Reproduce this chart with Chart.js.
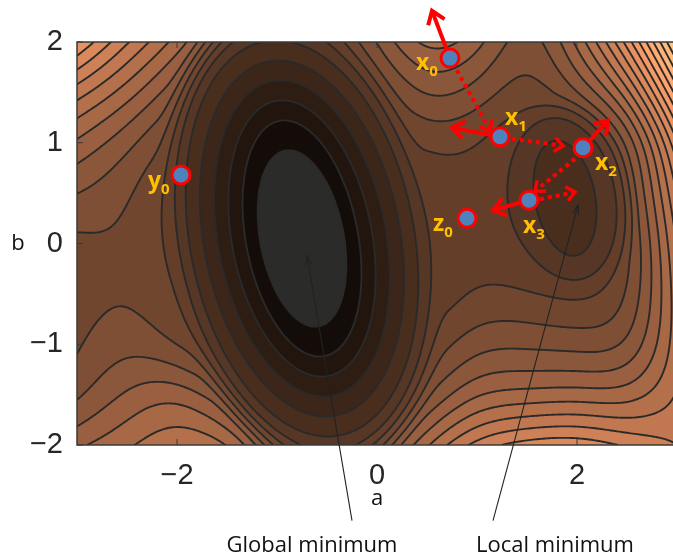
<!DOCTYPE html>
<html>
<head>
<meta charset="utf-8">
<script src="https://cdn.jsdelivr.net/npm/chart.js@4.4.1/dist/chart.umd.min.js"></script>
<style>
  html, body { margin: 0; padding: 0; background: #fff; }
  #chart { display: block; }
</style>
</head>
<body>
<canvas id="chart" width="673" height="558"></canvas>
<script>
// Terrain heights (rows = b from 2 down to -2, cols = a from -3 to 3)
const aGrid = [-3, -2.5, -2, -1.5, -1, -0.5, 0, 0.5, 1, 1.5, 2, 2.5, 3];
const bGrid = [2, 1.5, 1, 0.5, 0, -0.5, -1, -1.5, -2];
const heights = [
    [18.0, 15.0, 12.7, 9.5, 6.0, 7.4, 10.0, 12.9, 11.6, 8.6, 12.0, 17.0, 24.5],
    [14.3, 12.5, 10.2, 7.6, 6.5, 6.5, 8.2, 10.6, 9.6, 8.2, 10.0, 13.0, 20.5],
    [11.7, 10.2, 8.3, 7.0, 7.0, 7.0, 7.0, 8.3, 8.0, 6.7, 6.1, 9.0, 16.5],
    [9.95, 9.15, 7.5, 7.0, 7.0, 7.0, 7.0, 7.0, 7.7, 6.2, 5.3, 8.7, 15.0],
    [8.6, 9.0, 7.5, 7.0, 7.0, 7.0, 7.0, 6.8, 7.6, 6.7, 5.8, 8.0, 14.0],
    [8.5, 9.0, 8.0, 7.0, 7.0, 7.0, 7.0, 7.0, 8.2, 8.1, 7.6, 8.3, 13.5],
    [8.8, 9.9, 8.6, 7.0, 7.0, 7.0, 7.0, 8.0, 9.8, 9.7, 9.5, 9.3, 13.5],
    [9.6, 11.2, 12.3, 10.0, 7.5, 7.0, 7.0, 9.7, 12.0, 12.0, 12.3, 12.0, 14.0],
    [11.8, 12.8, 14.0, 13.5, 9.6, 6.6, 9.5, 13.0, 15.6, 16.5, 16.8, 15.8, 15.0]
];
const contourLevels = [1, 2, 3, 4, 5, 6, 7, 8, 9, 10, 11, 12, 13, 14, 15, 16, 17, 18, 19, 20, 21, 22, 23, 24, 25];

// The two basins (global, local): nested tilted ellipses
const basinCenterA = [-0.75, 1.88];
const basinCenterB = [0.05, 0.45];
const basinTilt = [11, 11];
const basinFloor = [0.2, 5.2];
const basinLevel = [1, 6];
const basinAxisA = [0.89, 0.58];
const basinAxisB = [0.42, 0.30];
const basinGrowA = [0.2, 0.27];
const basinGrowB = [0.14, 0.25];
const basinExtraA = [0.1, 0];
const basinBlendFrom = [6.0, 6.5];
const basinBlendTo = [8.5, 7.8];

// Tick labels
const xTicks = [-2, 0, 2];
const yTicks = [-2, -1, 0, 1, 2];

// Search points
const pointLetters = ['x', 'x', 'x', 'x', 'y', 'z'];
const pointSubs = ['0', '1', '2', '3', '0', '0'];
const pointA = [0.73, 1.23, 2.06, 1.52, -1.96, 0.90];
const pointB = [1.84, 1.06, 0.95, 0.43, 0.68, 0.25];

// Step directions of x0..x3 (solid arrows)
const stepTipA = [0.55, 0.75, 2.31, 1.16];
const stepTipB = [2.31, 1.15, 1.22, 0.33];

// Moves between iterates (dotted arrows)
const moveFromA = [0.80, 1.35, 1.98, 1.63];
const moveFromB = [1.72, 1.04, 0.84, 0.44];
const moveToA = [1.13, 1.86, 1.58, 1.98];
const moveToB = [1.12, 0.97, 0.52, 0.51];

// Annotations
const noteText = ['Global minimum', 'Local minimum'];
const noteTipA = [-0.70, 2.01];
const noteTipB = [-0.12, 0.38];
const noteTailA = [-0.25, 1.16];
const noteTailB = [-2.75, -2.75];
const noteTextA = [-0.65, 1.78];
const noteTextB = [-3.06, -3.06];

// ---- surface: smooth terrain from the table blended with the basins ----
function gridValue(i, j) {
    const rows = bGrid.length, cols = aGrid.length;
    if (i < 0) return 2 * gridValue(0, j) - gridValue(1, j);
    if (i >= rows) return 2 * gridValue(rows - 1, j) - gridValue(rows - 2, j);
    if (j < 0) return 2 * gridValue(i, 0) - gridValue(i, 1);
    if (j >= cols) return 2 * gridValue(i, cols - 1) - gridValue(i, cols - 2);
    return heights[i][j];
}

// uniform cubic B-spline
function spline(p0, p1, p2, p3, t) {
    const t2 = t * t, t3 = t2 * t;
    return ((1 - t) * (1 - t) * (1 - t) * p0 + (3 * t3 - 6 * t2 + 4) * p1 + (-3 * t3 + 3 * t2 + 3 * t + 1) * p2 + t3 * p3) / 6;
}

function terrainAt(a, b) {
    const fx = (a - aGrid[0]) / (aGrid[1] - aGrid[0]);
    const fy = (bGrid[0] - b) / (bGrid[0] - bGrid[1]);
    const j = Math.min(Math.max(Math.floor(fx), 0), aGrid.length - 2);
    const i = Math.min(Math.max(Math.floor(fy), 0), bGrid.length - 2);
    const tx = fx - j, ty = fy - i;
    let r = [];
    for (let k = -1; k <= 2; k++) {
        r.push(spline(gridValue(i + k, j - 1), gridValue(i + k, j), gridValue(i + k, j + 1), gridValue(i + k, j + 2), tx));
    }
    return spline(r[0], r[1], r[2], r[3], ty);
}

// Level of a point inside basin i (which nested ellipse it lies on)
function basinValue(i, a, b) {
    const th = basinTilt[i] * Math.PI / 180;
    const dx = a - basinCenterA[i], dy = b - basinCenterB[i];
    const u = -Math.sin(th) * dx + Math.cos(th) * dy;
    const v = Math.cos(th) * dx + Math.sin(th) * dy;
    const e = Math.hypot(u / basinAxisA[i], v / basinAxisB[i]);
    if (e <= 1) return basinFloor[i] + (basinLevel[i] - basinFloor[i]) * e * e;
    let lo = 0, hi = 30;
    for (let n = 0; n < 14; n++) {
        const t = (lo + hi) / 2;
        const A = basinAxisA[i] + basinGrowA[i] * t + basinExtraA[i] * Math.min(t, 1);
        const B = basinAxisB[i] + basinGrowB[i] * t;
        if ((u / A) * (u / A) + (v / B) * (v / B) > 1) lo = t; else hi = t;
    }
    return basinLevel[i] + (lo + hi) / 2;
}

function heightAt(a, b) {
    let f = terrainAt(a, b);
    for (let i = 0; i < basinCenterA.length; i++) {
        const k = basinValue(i, a, b);
        const s = Math.min(Math.max((basinBlendTo[i] - k) / (basinBlendTo[i] - basinBlendFrom[i]), 0), 1);
        const w = s * s * (3 - 2 * s);
        f = w * k + (1 - w) * f;
    }
    return f;
}

// copper like colour for each band
function bandColor(k) {
    if (k < 1) return [43, 43, 41];
    const t = Math.min((k + 0.5) / 24, 1);
    return [Math.min(255, 1.25 * t * 255), 0.78 * t * 255, 0.52 * t * 255];
}

function arrowHead(ctx, x1, y1, x2, y2, len, spread) {
    const ang = Math.atan2(y2 - y1, x2 - x1);
    ctx.beginPath();
    ctx.moveTo(x2 - len * Math.cos(ang - spread), y2 - len * Math.sin(ang - spread));
    ctx.lineTo(x2, y2);
    ctx.lineTo(x2 - len * Math.cos(ang + spread), y2 - len * Math.sin(ang + spread));
    ctx.stroke();
}

const contourPlugin = {
    id: 'contourField',
    beforeDatasetsDraw(chart) {
        const ctx = chart.ctx;
        const area = chart.chartArea;
        const xs = chart.scales.x, ys = chart.scales.y;
        const w = Math.round(area.right - area.left), h = Math.round(area.bottom - area.top);

        // Filled bands
        const off = document.createElement('canvas');
        off.width = w;
        off.height = h;
        const octx = off.getContext('2d');
        const img = octx.createImageData(w, h);
        const pal = [];
        for (let k = 0; k < 40; k++) pal.push(bandColor(k));
        for (let py = 0; py < h; py++) {
            const b = ys.getValueForPixel(area.top + py + 0.5);
            for (let px = 0; px < w; px++) {
                const a = xs.getValueForPixel(area.left + px + 0.5);
                const k = Math.max(0, Math.min(39, Math.floor(heightAt(a, b))));
                const c = pal[k];
                const o = (py * w + px) * 4;
                img.data[o] = c[0];
                img.data[o + 1] = c[1];
                img.data[o + 2] = c[2];
                img.data[o + 3] = 255;
            }
        }
        octx.putImageData(img, 0, 0);
        ctx.drawImage(off, area.left, area.top);

        // Contour lines (marching squares on a sample grid)
        const na = 300, nb = 200;
        const pxs = [], pys = [];
        for (let ix = 0; ix <= na; ix++) pxs.push(xs.getPixelForValue(-3 + 6 * ix / na));
        for (let iy = 0; iy <= nb; iy++) pys.push(ys.getPixelForValue(2 - 4 * iy / nb));
        const vals = new Float32Array((na + 1) * (nb + 1));
        for (let iy = 0; iy <= nb; iy++) {
            for (let ix = 0; ix <= na; ix++) {
                vals[iy * (na + 1) + ix] = heightAt(-3 + 6 * ix / na, 2 - 4 * iy / nb);
            }
        }
        ctx.save();
        ctx.beginPath();
        ctx.rect(area.left, area.top, area.right - area.left, area.bottom - area.top);
        ctx.clip();
        ctx.strokeStyle = '#2a2a2a';
        ctx.lineWidth = 1.9;
        ctx.lineCap = 'round';
        ctx.lineJoin = 'round';
        for (let lev of contourLevels) {
            ctx.beginPath();
            for (let iy = 0; iy < nb; iy++) {
                for (let ix = 0; ix < na; ix++) {
                    const v00 = vals[iy * (na + 1) + ix], v10 = vals[iy * (na + 1) + ix + 1];
                    const v01 = vals[(iy + 1) * (na + 1) + ix], v11 = vals[(iy + 1) * (na + 1) + ix + 1];
                    const s00 = v00 >= lev, s10 = v10 >= lev, s01 = v01 >= lev, s11 = v11 >= lev;
                    if (s00 === s10 && s00 === s01 && s00 === s11) continue;
                    const x0 = pxs[ix], x1 = pxs[ix + 1], y0 = pys[iy], y1 = pys[iy + 1];
                    // crossings on top, right, bottom, left edges
                    let pts = [null, null, null, null];
                    if (s00 !== s10) { const t = (lev - v00) / (v10 - v00); pts[0] = [x0 + t * (x1 - x0), y0]; }
                    if (s10 !== s11) { const t = (lev - v10) / (v11 - v10); pts[1] = [x1, y0 + t * (y1 - y0)]; }
                    if (s01 !== s11) { const t = (lev - v01) / (v11 - v01); pts[2] = [x0 + t * (x1 - x0), y1]; }
                    if (s00 !== s01) { const t = (lev - v00) / (v01 - v00); pts[3] = [x0, y0 + t * (y1 - y0)]; }
                    const found = pts.filter(p => p);
                    if (found.length === 2) {
                        ctx.moveTo(found[0][0], found[0][1]);
                        ctx.lineTo(found[1][0], found[1][1]);
                    } else if (found.length === 4) {
                        const center = (v00 + v10 + v01 + v11) / 4 >= lev;
                        let pairs = center === s00 ? [[0, 1], [2, 3]] : [[0, 3], [1, 2]];
                        for (let p of pairs) {
                            ctx.moveTo(pts[p[0]][0], pts[p[0]][1]);
                            ctx.lineTo(pts[p[1]][0], pts[p[1]][1]);
                        }
                    }
                }
            }
            ctx.stroke();
        }
        ctx.restore();

        // Frame and inner ticks
        ctx.save();
        ctx.strokeStyle = '#3a3a3a';
        ctx.lineWidth = 1.5;
        ctx.beginPath();
        ctx.moveTo(area.right + 2, area.top);
        ctx.lineTo(area.left, area.top);
        ctx.lineTo(area.left, area.bottom);
        ctx.lineTo(area.right + 2, area.bottom);
        ctx.stroke();
        ctx.lineWidth = 1;
        ctx.beginPath();
        for (let v of yTicks) {
            const py = ys.getPixelForValue(v);
            ctx.moveTo(area.left, py);
            ctx.lineTo(area.left + 6, py);
        }
        for (let v of xTicks) {
            const px = xs.getPixelForValue(v);
            ctx.moveTo(px, area.bottom);
            ctx.lineTo(px, area.bottom - 6);
            ctx.moveTo(px, area.top);
            ctx.lineTo(px, area.top + 6);
        }
        ctx.stroke();
        ctx.restore();

        // Annotation arrows
        ctx.save();
        ctx.strokeStyle = '#222';
        ctx.lineWidth = 1.1;
        for (let i = 0; i < noteText.length; i++) {
            const tx = xs.getPixelForValue(noteTailA[i]), ty = ys.getPixelForValue(noteTailB[i]);
            const hx = xs.getPixelForValue(noteTipA[i]), hy = ys.getPixelForValue(noteTipB[i]);
            ctx.beginPath();
            ctx.moveTo(tx, ty);
            ctx.lineTo(hx, hy);
            ctx.stroke();
            arrowHead(ctx, tx, ty, hx, hy, 10, 0.33);
        }
        ctx.restore();

        // Red arrows: steps (solid) and moves (dotted)
        ctx.save();
        ctx.strokeStyle = '#ff0000';
        ctx.lineCap = 'butt';
        ctx.lineJoin = 'miter';
        for (let i = 0; i < stepTipA.length; i++) {
            const sx = xs.getPixelForValue(pointA[i]), sy = ys.getPixelForValue(pointB[i]);
            const ex = xs.getPixelForValue(stepTipA[i]), ey = ys.getPixelForValue(stepTipB[i]);
            ctx.lineWidth = 4;
            ctx.setLineDash([]);
            ctx.beginPath();
            ctx.moveTo(sx, sy);
            ctx.lineTo(ex, ey);
            ctx.stroke();
            arrowHead(ctx, sx, sy, ex, ey, 15, 0.62);
        }
        for (let i = 0; i < moveFromA.length; i++) {
            const sx = xs.getPixelForValue(moveFromA[i]), sy = ys.getPixelForValue(moveFromB[i]);
            const ex = xs.getPixelForValue(moveToA[i]), ey = ys.getPixelForValue(moveToB[i]);
            ctx.lineWidth = 4;
            ctx.setLineDash([4, 4]);
            ctx.beginPath();
            ctx.moveTo(sx, sy);
            ctx.lineTo(ex, ey);
            ctx.stroke();
            ctx.setLineDash([]);
            ctx.lineWidth = 3.5;
            arrowHead(ctx, sx, sy, ex, ey, 11, 0.7);
        }
        ctx.restore();
    },
    afterDatasetsDraw(chart) {
        const ctx = chart.ctx;
        const xs = chart.scales.x, ys = chart.scales.y;
        // point labels
        const labelDx = [-34, 5, 12, -6, -33, -34];
        const labelDy = [12, -12, 22, 33, 13, 13];
        ctx.save();
        ctx.fillStyle = '#ffc000';
        ctx.textBaseline = 'alphabetic';
        for (let i = 0; i < pointLetters.length; i++) {
            const px = xs.getPixelForValue(pointA[i]) + labelDx[i];
            const py = ys.getPixelForValue(pointB[i]) + labelDy[i];
            ctx.font = 'bold 23px "Open Sans"';
            ctx.fillText(pointLetters[i], px, py);
            const lw = ctx.measureText(pointLetters[i]).width;
            ctx.font = 'bold 15px "Open Sans"';
            ctx.fillText(pointSubs[i], px + lw, py + 6);
        }
        ctx.restore();

        // axis names and annotation texts
        ctx.save();
        ctx.fillStyle = '#111';
        ctx.font = '22px "Open Sans"';
        ctx.textAlign = 'center';
        ctx.textBaseline = 'middle';
        ctx.fillText('b', 18, ys.getPixelForValue(0));
        ctx.fillText('a', xs.getPixelForValue(0), 499);
        ctx.textBaseline = 'alphabetic';
        for (let i = 0; i < noteText.length; i++) {
            ctx.fillText(noteText[i], xs.getPixelForValue(noteTextA[i]), ys.getPixelForValue(noteTextB[i]));
        }
        ctx.restore();
    }
};

function tickText(v) {
    return v < 0 ? '\u2212' + Math.abs(v) : String(v);
}

new Chart(document.getElementById('chart'), {
    type: 'scatter',
    data: {
        datasets: [{
            data: pointA.map((a, i) => ({ x: a, y: pointB[i] })),
            pointRadius: 9,
            pointBackgroundColor: '#4f81bd',
            pointBorderColor: '#ff0000',
            pointBorderWidth: 3,
            clip: false
        }]
    },
    options: {
        responsive: false,
        animation: false,
        devicePixelRatio: 1,
        layout: { autoPadding: false, padding: { top: 42, left: 0, right: 0, bottom: 0 } },
        plugins: { legend: { display: false }, tooltip: { enabled: false } },
        scales: {
            x: {
                type: 'linear',
                min: -3,
                max: 2.96,
                grid: { display: false },
                border: { display: false },
                afterFit: s => { s.height = 113; s.paddingLeft = 0; s.paddingRight = 0; },
                afterBuildTicks: s => { s.ticks = xTicks.map(v => ({ value: v })); },
                ticks: {
                    font: { family: 'Liberation Sans', size: 29 },
                    color: '#262626',
                    padding: 6,
                    maxRotation: 0,
                    autoSkip: false,
                    callback: tickText
                }
            },
            y: {
                type: 'linear',
                min: -2,
                max: 2,
                grid: { display: false },
                border: { display: false },
                afterFit: s => { s.width = 77; s.paddingTop = 0; s.paddingBottom = 0; },
                afterBuildTicks: s => { s.ticks = yTicks.map(v => ({ value: v })); },
                ticks: {
                    font: { family: 'Liberation Sans', size: 29 },
                    color: '#262626',
                    padding: 6,
                    autoSkip: false,
                    callback: tickText
                }
            }
        }
    },
    plugins: [contourPlugin]
});
</script>
</body>
</html>
